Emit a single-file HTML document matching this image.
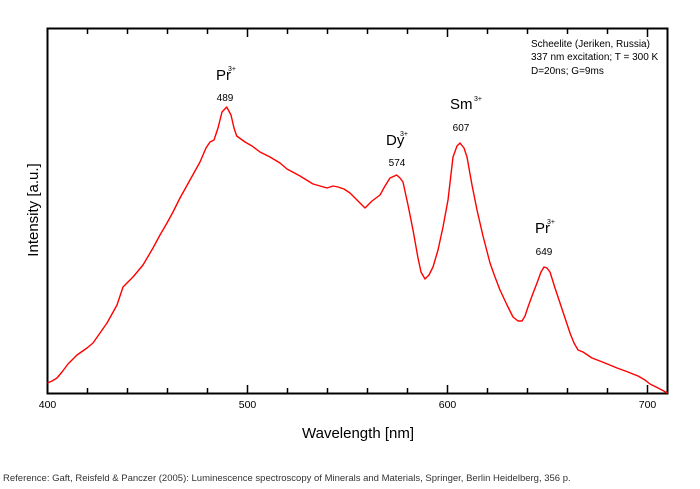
<!DOCTYPE html>
<html><head><meta charset="utf-8"><style>
body{margin:0;background:#fff;}
svg{display:block;font-family:"Liberation Sans",Arial,sans-serif;}
</style></head><body>
<svg width="700" height="489" viewBox="0 0 700 489" xmlns="http://www.w3.org/2000/svg">
<rect width="700" height="489" fill="#fff"/>
<rect x="47.5" y="28.5" width="620" height="365" fill="none" stroke="#000" stroke-width="2"/>
<g stroke="#000" stroke-width="1.5">
<line x1="87.5" y1="393" x2="87.5" y2="388"/><line x1="127.5" y1="393" x2="127.5" y2="388"/><line x1="167.5" y1="393" x2="167.5" y2="388"/><line x1="207.5" y1="393" x2="207.5" y2="388"/>
<line x1="247.5" y1="393" x2="247.5" y2="385"/>
<line x1="287.5" y1="393" x2="287.5" y2="388"/><line x1="327.5" y1="393" x2="327.5" y2="388"/><line x1="367.5" y1="393" x2="367.5" y2="388"/><line x1="407.5" y1="393" x2="407.5" y2="388"/>
<line x1="447.5" y1="393" x2="447.5" y2="385"/>
<line x1="487.5" y1="393" x2="487.5" y2="388"/><line x1="527.5" y1="393" x2="527.5" y2="388"/><line x1="567.5" y1="393" x2="567.5" y2="388"/><line x1="607.5" y1="393" x2="607.5" y2="388"/>
<line x1="647.5" y1="393" x2="647.5" y2="385"/>
<line x1="87.5" y1="29" x2="87.5" y2="34"/><line x1="127.5" y1="29" x2="127.5" y2="34"/><line x1="167.5" y1="29" x2="167.5" y2="34"/><line x1="207.5" y1="29" x2="207.5" y2="34"/>
<line x1="247.5" y1="29" x2="247.5" y2="37"/>
<line x1="287.5" y1="29" x2="287.5" y2="34"/><line x1="327.5" y1="29" x2="327.5" y2="34"/><line x1="367.5" y1="29" x2="367.5" y2="34"/><line x1="407.5" y1="29" x2="407.5" y2="34"/>
<line x1="447.5" y1="29" x2="447.5" y2="37"/>
<line x1="487.5" y1="29" x2="487.5" y2="34"/><line x1="527.5" y1="29" x2="527.5" y2="34"/><line x1="567.5" y1="29" x2="567.5" y2="34"/><line x1="607.5" y1="29" x2="607.5" y2="34"/>
<line x1="647.5" y1="29" x2="647.5" y2="37"/>
</g>
<polyline fill="none" stroke="#f00" stroke-width="1.4" stroke-linejoin="round" points="
47.5,383 52,381 57,378 62,372 68,364 77,355 87,348 93,343 100,333 107,323 117,305 123,287 133,277 143,265 153,248 160,235 167,223 173,212 180,198 190,180 200,162 206,148 210,142 214,140 218,128 222,112 226.7,107 231,115 234,128 236.7,136 245,142 252,146 260,152 270,157 280,163 287,169 300,176 313,184 320,186 327,188 333,186 338,187 344,189 350,193 358,201 365,208 372,201 380,195 385,186 390,178 396.7,175 400,178 403,182 408,205 413,230 418,258 421,272 425,279 429,275 433,267 438,250 443,227 448,200 453,157 457,146 460,143 464,148 467,157 472,185 477,210 483,236 490,263 495,277 500,290 507,305 513,317 518,321 522,321 525,316 528,307 532,296 537,283 541,272 544,267 547,268 550,272 555,288 560,303 565,318 570,333 574,343 578,350 583,352 592,358 605,363 617,368 628,372 638,376 645,380 650,384 660,389 667.5,393"/>
<g fill="#000" text-anchor="middle" font-size="10.5">
<text x="47.5" y="408">400</text><text x="247.5" y="408">500</text><text x="447.5" y="408">600</text><text x="647.5" y="408">700</text>
</g>
<text x="358" y="438" font-size="15" text-anchor="middle">Wavelength [nm]</text>
<text transform="translate(38,210) rotate(-90)" font-size="15" text-anchor="middle">Intensity [a.u.]</text>
<g font-size="10" fill="#000">
<text x="531" y="47">Scheelite (Jeriken, Russia)</text>
<text x="531" y="60">337 nm excitation; T = 300 K</text>
<text x="531" y="74">D=20ns; G=9ms</text>
</g>
<g fill="#000">
<text x="216" y="80" font-size="15">Pr</text><text x="228" y="71" font-size="7">3+</text>
<text x="225" y="101" font-size="10" text-anchor="middle">489</text>
<text x="386" y="145" font-size="15">Dy</text><text x="400" y="136" font-size="7">3+</text>
<text x="397" y="166" font-size="10" text-anchor="middle">574</text>
<text x="450" y="109" font-size="15">Sm</text><text x="474" y="101" font-size="7">3+</text>
<text x="461" y="131" font-size="10" text-anchor="middle">607</text>
<text x="535" y="233" font-size="15">Pr</text><text x="547" y="224" font-size="7">3+</text>
<text x="544" y="255" font-size="10" text-anchor="middle">649</text>
</g>
<text x="3" y="481" font-size="9.5" fill="#333">Reference: Gaft, Reisfeld &amp; Panczer (2005): Luminescence spectroscopy of Minerals and Materials, Springer, Berlin Heidelberg, 356 p.</text>
</svg>
</body></html>
